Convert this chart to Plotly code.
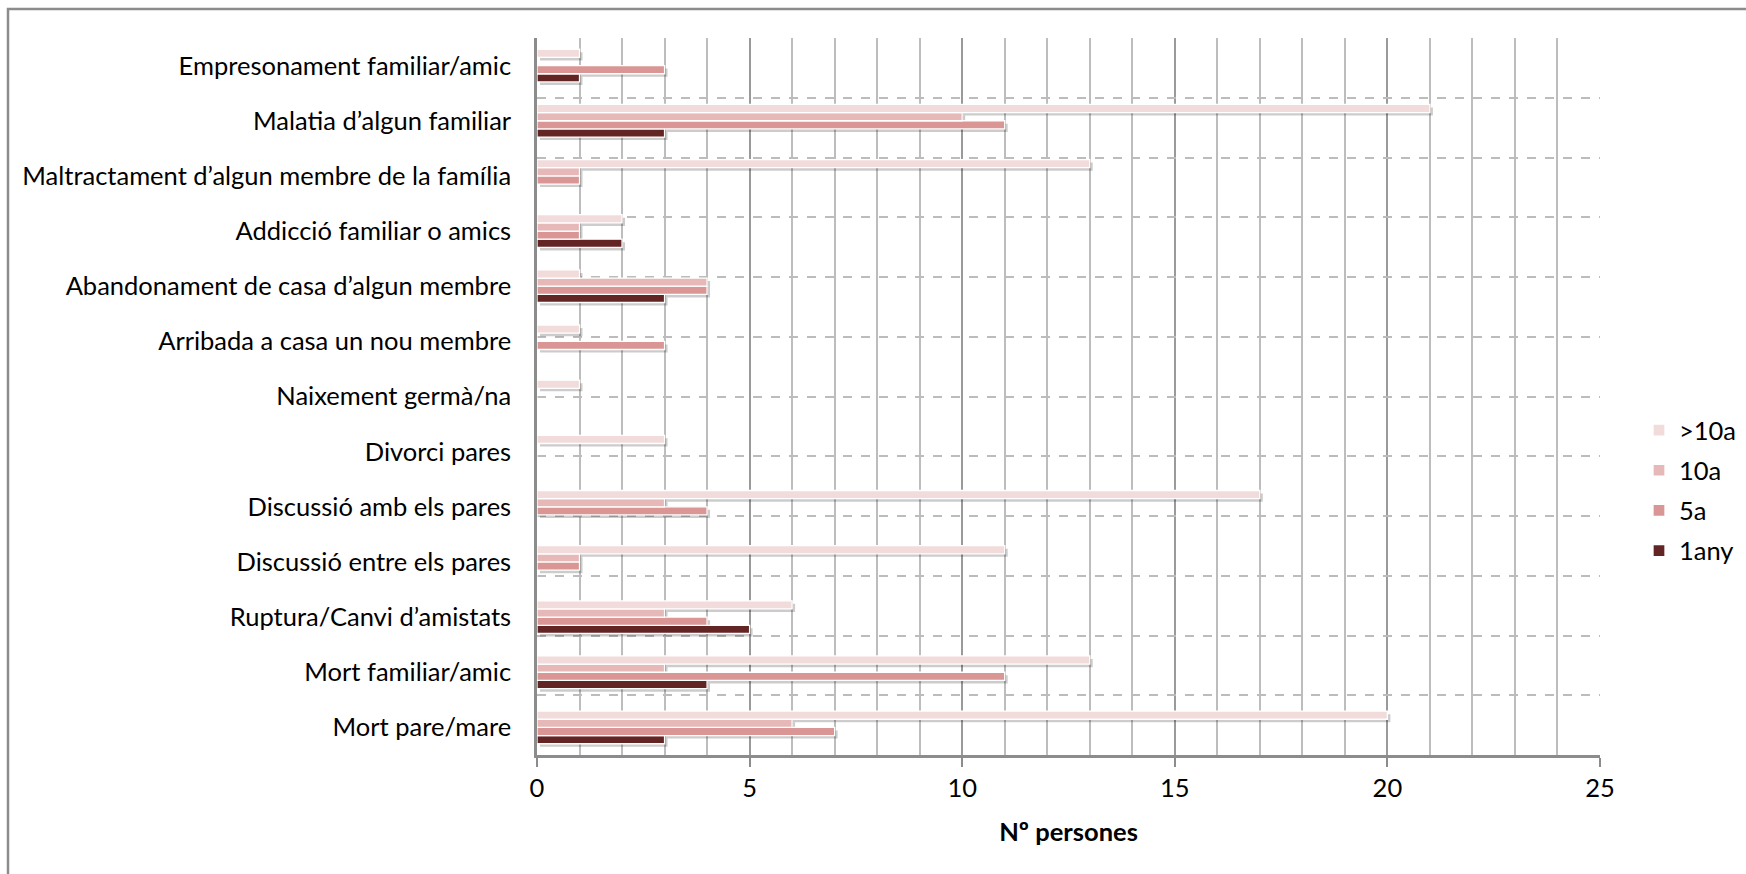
import plotly.graph_objects as go

# Categories listed bottom -> top (Plotly category order)
categories = [
    "Mort pare/mare",
    "Mort familiar/amic",
    "Ruptura/Canvi d’amistats",
    "Discussió entre els pares",
    "Discussió amb els pares",
    "Divorci pares",
    "Naixement germà/na",
    "Arribada a casa un nou membre",
    "Abandonament de casa d’algun membre",
    "Addicció familiar o amics",
    "Maltractament d’algun membre de la família",
    "Malatia d’algun familiar",
    "Empresonament familiar/amic",
]

vals_1any = [3, 4, 5, 0, 0, 0, 0, 0, 3, 2, 0, 3, 1]
vals_5a   = [7, 11, 4, 1, 4, 0, 0, 3, 4, 1, 1, 11, 3]
vals_10a  = [6, 3, 3, 1, 3, 0, 0, 0, 4, 1, 1, 10, 0]
vals_gt10 = [20, 13, 6, 11, 17, 3, 1, 1, 1, 2, 13, 21, 1]

series_names = ["1any", "5a", "10a", ">10a"]
series_vals = [vals_1any, vals_5a, vals_10a, vals_gt10]
series_colors = ["#632523", "#D99694", "#E6B9B8", "#F2DCDB"]

x_ticks = [0, 5, 10, 15, 20, 25]

FONT = "Lato"
FS = 25.5

L, R, T, B = 537, 146, 38, 119
W, H = 1746, 874
pw = W - L - R
ph = H - T - B

n = len(series_names)
bw = 0.148                      # bar thickness (category units)
offs = [-n * bw / 2 + i * bw for i in range(n)]

fig = go.Figure()
# soft drop shadows
for i, vals in enumerate(series_vals):
    fig.add_trace(go.Bar(
        y=categories, x=vals, orientation="h", base=0.07,
        width=bw, offset=offs[i] - 0.055,
        marker=dict(color="rgba(0,0,0,0.20)", line=dict(width=0)),
        showlegend=False, hoverinfo="skip",
    ))
for i, (name, vals, color) in enumerate(zip(series_names, series_vals, series_colors)):
    fig.add_trace(go.Bar(
        y=categories, x=vals, name=name, orientation="h",
        width=bw, offset=offs[i], legendgroup=name, legendrank=100 * (n - i),
        marker=dict(color=color, line=dict(color="white", width=1.3)),
    ))

# helper (invisible) trace to create the overlaying axis used for dashed gridlines
fig.add_trace(go.Scatter(x=[None], y=[None], yaxis="y2", showlegend=False,
                         hoverinfo="skip", mode="lines"))

fig.update_layout(
    width=W, height=H,
    margin=dict(l=L, r=R, t=T, b=B, pad=0),
    paper_bgcolor="white", plot_bgcolor="white",
    font=dict(family=FONT, size=FS, color="#000000"),
    barmode="overlay",
    showlegend=True,
    legend=dict(traceorder="grouped", xref="container", yref="container",
                x=1639 / W, xanchor="left", y=1 - 407 / H, yanchor="top",
                font=dict(size=FS), itemwidth=30, tracegroupgap=4,
                bgcolor="rgba(0,0,0,0)"),
    xaxis=dict(
        range=[0, 25], tickvals=x_ticks, ticktext=[str(v) for v in x_ticks],
        showgrid=True, gridcolor="#9a9a9a", gridwidth=1.5,
        minor=dict(dtick=1, showgrid=True, gridcolor="#bdbdbd", gridwidth=1.5),
        showline=True, linecolor="#8c8c8c", linewidth=2.5,
        ticks="outside", ticklen=9, tickcolor="#8c8c8c", tickwidth=1.5,
        zeroline=False, fixedrange=True,
        title=dict(text="<b>Nº persones</b>", font=dict(size=FS), standoff=22),
    ),
    yaxis=dict(
        type="category", categoryorder="array", categoryarray=categories,
        range=[-0.5, len(categories) - 0.5],
        showgrid=False, showline=True, linecolor="#8c8c8c", linewidth=2.5,
        ticks="", ticklabelstandoff=18, zeroline=False, fixedrange=True,
    ),
    yaxis2=dict(
        overlaying="y", range=[0, 12], tickvals=list(range(0, 12)),
        showticklabels=False, showgrid=True, griddash="dash",
        gridcolor="#bcbcbc", gridwidth=2, zeroline=False, showline=False,
        fixedrange=True,
    ),
)

# outer chart border (extends beyond the bottom/right of the picture)
fig.add_shape(type="rect", xref="paper", yref="paper",
              x0=(8 - L) / pw, x1=(W + 40 - L) / pw,
              y0=(H - B - (H + 40)) / ph, y1=(H - B - 9) / ph,
              line=dict(color="#8c8c8c", width=2.5), fillcolor="rgba(0,0,0,0)",
              layer="below")

fig.write_html("out.html")
